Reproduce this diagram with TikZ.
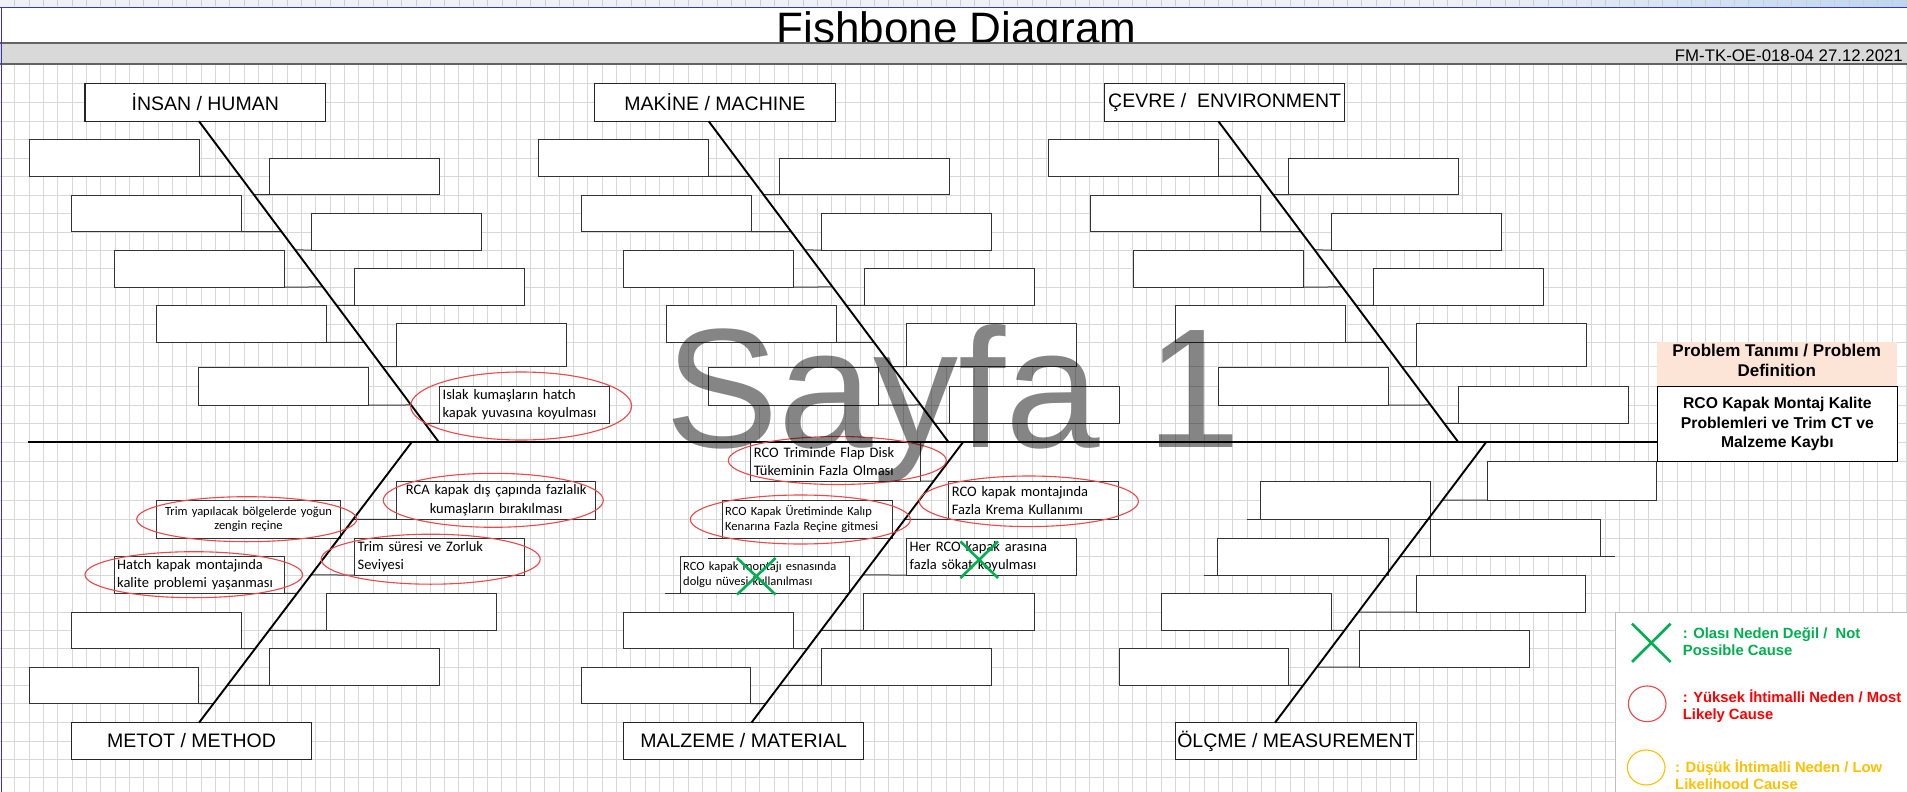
\documentclass[tikz,border=0pt]{standalone}
\usepackage{fontspec}
\setmainfont{Liberation Sans}
\newfontfamily\causefont{Carlito}
\usetikzlibrary{calc,positioning,shapes.geometric,shapes.misc}

\definecolor{gridline}{RGB}{216,216,216}
\definecolor{stripgray}{RGB}{238,241,245}
\definecolor{stripblue}{RGB}{190,214,240}
\definecolor{sheetblue}{RGB}{52,52,205}
\definecolor{bargray}{RGB}{217,217,217}
\definecolor{baredge}{RGB}{100,100,100}
\definecolor{ovalred}{RGB}{236,72,72}
\definecolor{notgreen}{RGB}{0,176,80}
\definecolor{lowyellow}{RGB}{255,192,0}
\definecolor{headpeach}{RGB}{252,228,214}

\tikzset{
  catbox/.style={draw=black!85,line width=1.1pt,fill=white,inner sep=0pt,outer sep=0pt,
    anchor=north west,minimum width=240.5pt,font=\fontsize{19.5}{22}\selectfont},
  causebox/.style={draw=black!80,line width=1pt,fill=white,inner sep=0pt,outer sep=0pt,
    anchor=north west},
  causetext/.style={inner xsep=3.2pt,align=left,font=\causefont\fontsize{14.5}{18.2}\selectfont},
  smalltext/.style={inner xsep=3.2pt,align=left,font=\causefont\fontsize{12.5}{14.8}\selectfont},
  rib/.style={black!80,line width=1pt},
  bone/.style={line width=1.9pt},
  oval/.style={ellipse,draw=ovalred,line width=1.1pt,inner sep=0pt},
  nomark/.style={cross out,draw=notgreen,line width=2.6pt,inner sep=0pt},
  legendtext/.style={align=left,anchor=base west,inner sep=0pt,font=\bfseries\fontsize{14.8}{16.7}\selectfont},
}

\begin{document}
\begin{tikzpicture}[x=1pt,y=-1pt]
  \useasboundingbox (0,0) rectangle (1907,792);
  \fill[white] (0,0) rectangle (1907,792);

  % sheet header strip and cell grid
  \fill[stripgray] (0,0) rectangle (1907,7);
  \shade[left color=stripgray,right color=stripblue] (1450,0) rectangle (1907,7);
  \foreach \k in {1,...,133}
    \draw[gray!40,line width=0.6pt] (0.33+14.33*\k,0) -- ++(0,6);
  \foreach \k in {1,...,133}
    \draw[gridline,line width=0.8pt] (0.33+14.33*\k,64.3) -- (0.33+14.33*\k,792);
  \foreach \y in {83.3,102.3,121.3,139.7,158.3,176.5,195,213.7,232,250.3,268.7,287,305.7,324,
      342.3,366.7,386.7,405,423.3,442.3,461,481,500.3,519.3,538.3,556.7,575,593.3,612,630.3,
      648.7,667,685.3,703.7,722.7,741,759.3,777.7}
    \draw[gridline,line width=0.8pt] (0,\y) -- (1907,\y);
  \fill[white] (1615,612.7) rectangle (1907,792);
  \draw[gray!50,line width=0.8pt] (1907,612.7) -- (1615,612.7) -- (1615,792);

  % title row
  \node[anchor=base,inner sep=0pt,font=\fontsize{44}{50}\selectfont] (title) at (956.5,43.5) {Fishbone Diagram};
  \fill[bargray] (0,42.7) rectangle (1907,64.3);
  \draw[baredge,line width=1.7pt] (0,42.7) -- (1907,42.7) (0,64.3) -- (1907,64.3);
  \node[anchor=base east,inner sep=0pt,font=\fontsize{16.8}{19}\selectfont] (formno) at (1903,61.5) {FM-TK-OE-018-04 27.12.2021};
  \draw[sheetblue,line width=1pt] (0,7.3) -- (1907,7.3) (1.7,7.3) -- (1.7,792);

  % upper categories
  \foreach \g/\lbl/\note in {0/{İNSAN / HUMAN}/{Islak kumaşların hatch\\kapak yuvasına koyulması},
      1/{MAKİNE / MACHINE}/{},2/{ÇEVRE /~ ENVIRONMENT}/{}}{
    \pgfmathsetmacro\dx{509.7*\g}
    \node[catbox,minimum height=38pt] (cat\g) at (85+\dx,83.3) {\lbl};
    \coordinate (up\g) at (199+\dx,121.3);
    \coordinate (sp\g) at (439+\dx,442.3);
    \foreach \x/\y/\h [count=\i] in {29/139.7/36.6,71.3/195/36.7,114/250.3/36.7,156.3/305.7/36.6,198.6/367/38}{
      \pgfmathsetmacro\t{(\y+\h-121.3)/321}
      \node[causebox,minimum width=170pt,minimum height=\h pt] (l\g-\i) at (\x+\dx,\y) {};
      \draw[rib] (l\g-\i.south east) -- ($(up\g)!\t!(sp\g)$);
    }
    \foreach \x/\y/\h [count=\i] in {269.5/158.3/36.4,311.7/213.7/36.3,354.4/268.7/36.6,396.7/323.7/43}{
      \pgfmathsetmacro\t{(\y+\h-121.3)/321}
      \node[causebox,minimum width=170pt,minimum height=\h pt] (r\g-\i) at (\x+\dx,\y) {};
      \draw[rib] ($(up\g)!\t!(sp\g)$) -- (r\g-\i.south west);
    }
    \node[causebox,causetext,text width=163.6pt,minimum height=36.6pt] (r\g-5) at (439.4+\dx,386.7) {\note};
    \draw[rib] ($(up\g)!0.9408!(sp\g)$) -- (r\g-5.south west);
  }

  % lower categories
  \node[catbox,minimum height=36.6pt] (cat3) at (71.3,722.7) {METOT / METHOD};
  \node[catbox,minimum height=36.6pt] (cat4) at (623.3,722.7) {MALZEME / MATERIAL};
  \node[catbox,minimum height=36.6pt] (cat5) at (1175.7,722.7) {ÖLÇME / MEASUREMENT};
  \coordinate (lo3) at (199,722.7);    \coordinate (sp3) at (411.6,442.3);
  \coordinate (lo4) at (751.4,722.7);  \coordinate (sp4) at (962.9,442.3);
  \coordinate (lo5) at (1275,722.7);   \coordinate (sp5) at (1486,442.3);

  \foreach \g/\x/\y/\w/\h [count=\i] in {3/29/667/169.6/36.7,3/71.3/612/170/36.7,
      4/581.3/667/169.3/36.7,4/623.3/612/170.2/36.7,5/1260.6/481/169.8/38.3,
      5/1217.3/538.3/170.9/36.7,5/1161.8/593.3/169.8/37,5/1119/648.7/169.9/36.6}{
    \pgfmathsetmacro\t{(722.7-\y-\h)/280.4}
    \node[causebox,minimum width=\w pt,minimum height=\h pt] (bl\i) at (\x,\y) {};
    \draw[rib] (bl\i.south east) -- ($(lo\g)!\t!(sp\g)$);
  }
  \foreach \g/\x/\y/\w/\h [count=\i] in {3/269.5/648.7/169.5/36.6,3/326.2/593.3/170/37,
      4/821.2/648.7/170.2/36.6,4/863.7/593.3/170.6/37,5/1487/461/169.9/39,
      5/1430.4/519.3/169.9/37.4,5/1416/575/169.8/37,5/1359.4/630.3/169.8/36.7}{
    \pgfmathsetmacro\t{(722.7-\y-\h)/280.4}
    \node[causebox,minimum width=\w pt,minimum height=\h pt] (br\i) at (\x,\y) {};
    \draw[rib] ($(lo\g)!\t!(sp\g)$) -- (br\i.south west);
  }
  \draw[rib] (bl5.south west) -- ++(-13.9,0);
  \draw[rib] (bl6.south west) -- ++(-13.6,0);
  \draw[rib] (br6.south east) -- ++(14.7,0);

  % METOT causes
  \node[causebox,causetext,text width=163.6pt,minimum height=36.6pt] (hatch) at (114,556.7)
    {Hatch kapak montajında\\kalite problemi yaşanması};
  \draw[rib] (hatch.south east) -- ($(lo3)!0.4615!(sp3)$);
  \node[causebox,causetext,text width=163.2pt,minimum height=36.7pt] (trimtime) at (354.4,538.3)
    {Trim süresi ve Zorluk\\Seviyesi};
  \draw[rib] ($(lo3)!0.5268!(sp3)$) -- (trimtime.south west);
  \node[causebox,smalltext,align=center,text width=178pt,minimum height=38pt] (resin) at (156.3,500.3)
    {Trim yapılacak bölgelerde yoğun\\zengin reçine};
  \draw[rib] (resin.south east) -- ($(lo3)!0.6576!(sp3)$);
  \node[causebox,causetext,align=center,text width=192.6pt,minimum height=38.3pt] (excess) at (396.7,481)
    {RCA kapak dış çapında fazlalık\\kumaşların bırakılması};
  \draw[rib] ($(lo3)!0.7254!(sp3)$) -- (excess.south west);

  % MALZEME causes
  \node[causebox,smalltext,text width=163.4pt,minimum height=36.6pt] (filler) at (680,556.7)
    {RCO kapak montajı esnasında\\dolgu nüvesi kullanılması};
  \draw[rib] (filler.south east) -- ($(lo4)!0.4615!(sp4)$);
  \draw[rib] (filler.south west) -- ++(-15.1,0);
  \node[causebox,causetext,text width=163.4pt,minimum height=36.7pt] (spacer) at (906.5,538.3)
    {Her RCO kapak arasına\\fazla sökat koyulması};
  \draw[rib] ($(lo4)!0.5268!(sp4)$) -- (spacer.south west);
  \node[causebox,smalltext,text width=163.8pt,minimum height=38pt] (mould) at (722,500.3)
    {RCO Kapak Üretiminde Kalıp\\Kenarına Fazla Reçine gitmesi};
  \draw[rib] (mould.south east) -- ($(lo4)!0.6576!(sp4)$);
  \draw[rib] (mould.south west) -- ++(-14.2,0);
  \node[causebox,causetext,text width=163.8pt,minimum height=38.3pt] (cream) at (948.6,481)
    {RCO kapak montajında\\Fazla Krema Kullanımı};
  \draw[rib] ($(lo4)!0.7254!(sp4)$) -- (cream.south west);
  \node[causebox,causetext,text width=163.8pt,minimum height=38.7pt] (flapdisk) at (750.6,442.3)
    {RCO Triminde Flap Disk\\Tükeminin Fazla Olması};
  \draw[rib] (flapdisk.south east) -- ($(lo4)!0.862!(sp4)$);

  % problem definition
  \node[fill=headpeach,minimum width=240.5pt,minimum height=44.3pt,anchor=north west,inner sep=0pt] (probhead) at (1656.4,341.7) {};
  \node[anchor=base,align=center,inner sep=0pt,font=\bfseries\fontsize{17}{20}\selectfont] (probtitle) at (1776.7,376)
    {Problem Tanımı / Problem\\Definition};
  \node[draw=black,line width=1.2pt,fill=white,minimum width=240.5pt,minimum height=75pt,anchor=north west,
    inner sep=0pt,align=center,font=\bfseries\fontsize{15.7}{19.3}\selectfont] (probbox) at (1656.5,386)
    {RCO Kapak Montaj Kalite\\Problemleri ve Trim CT ve\\Malzeme Kaybı};

  % spine and bones
  \coordinate (tail) at (28.2,442.3);
  \draw[line width=2.2pt] (tail) -- (tail -| probbox.west);
  \foreach \g in {0,...,2}
    \draw[bone] (up\g) -- (sp\g);
  \foreach \g in {3,...,5}
    \draw[bone] (lo\g) -- (sp\g);

  % likely causes and ruled-out causes
  \node[oval,minimum width=221pt,minimum height=68pt] (ov-islak) at (521.1,406) {};
  \node[oval,minimum width=220pt,minimum height=54pt] (ov-excess) at (493.3,500.3) {};
  \node[oval,minimum width=220pt,minimum height=45pt] (ov-resin) at (246.7,519.2) {};
  \node[oval,minimum width=219pt,minimum height=50pt] (ov-trimtime) at (430.7,559.2) {};
  \node[oval,minimum width=217.6pt,minimum height=46pt] (ov-hatch) at (193.8,574.7) {};
  \node[oval,minimum width=218pt,minimum height=48pt] (ov-flapdisk) at (837.3,460.5) {};
  \node[oval,minimum width=220pt,minimum height=49pt] (ov-mould) at (800.4,519.5) {};
  \node[oval,minimum width=219.2pt,minimum height=50.6pt] (ov-cream) at (1028.8,501.3) {};
  \node[nomark,minimum width=36pt,minimum height=34pt] (no-filler) at (756.3,576.3) {};
  \node[nomark,minimum width=35pt,minimum height=34pt] (no-spacer) at (979.2,559.7) {};

  % page watermark
  \node[anchor=base west,inner sep=0pt,text=black,text opacity=0.48,font=\fontsize{170}{170}\selectfont] (pagemark) at (665,447) {Sayfa 1};

  % legend
  \node[nomark,minimum width=36pt,minimum height=35.7pt] (leg-no) at (1651.3,642.8) {};
  \node[oval,minimum width=37.6pt,minimum height=35.7pt] (leg-high) at (1647.2,703.8) {};
  \node[oval,draw=lowyellow,minimum width=37.6pt,minimum height=35pt] (leg-low) at (1646.2,767.5) {};
  \node[legendtext,text=notgreen] (txt-no) at (1682.7,655) {: Olası Neden Değil /~ Not\\Possible Cause};
  \node[legendtext,text=red] (txt-high) at (1682.7,719.4) {: Yüksek İhtimalli Neden / Most\\Likely Cause};
  \node[legendtext,text=lowyellow] (txt-low) at (1675,789) {: Düşük İhtimalli Neden / Low\\Likelihood Cause};
\end{tikzpicture}
\end{document}
